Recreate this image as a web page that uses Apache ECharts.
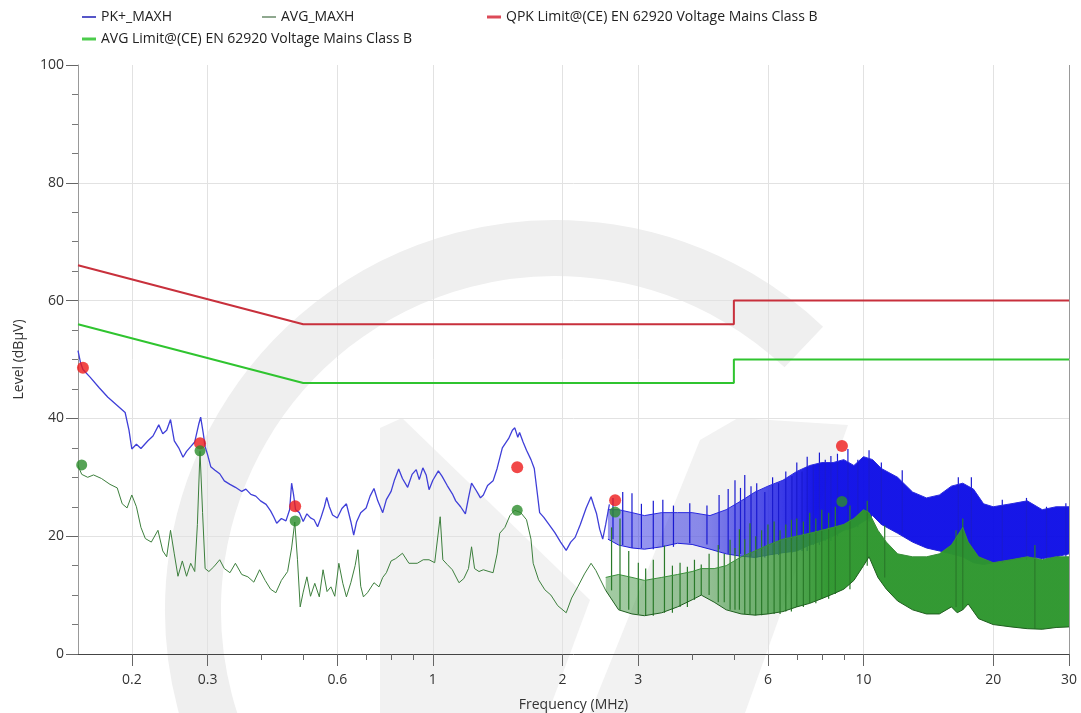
<!DOCTYPE html>
<html>
<head>
<meta charset="utf-8">
<title>EN 62920 conducted emission</title>
<script src="https://cdn.jsdelivr.net/npm/echarts@6/dist/echarts.min.js"></script>
<style>
  html, body { margin: 0; padding: 0; background: #fff; }
  #chart { width: 1081px; height: 713px; }
</style>
</head>
<body>
<div id="chart"></div>
<script>
// frequency ticks (MHz)
var majorTicks = [0.2, 0.3, 0.6, 1, 2, 3, 6, 10, 20, 30];
var minorTicks = [0.4, 0.5, 0.7, 0.8, 0.9, 4, 5, 7, 8, 9];

// limit lines
var qpkLimitFreq = [0.15, 0.5, 5, 5, 30];
var qpkLimitLevel = [66, 56, 56, 60, 60];
var avgLimitFreq = [0.15, 0.5, 5, 5, 30];
var avgLimitLevel = [56, 46, 46, 50, 50];

// PK+ trace, low band (0.15 - 2.6 MHz)
var pkFreq = [0.150, 0.152, 0.154, 0.160, 0.168, 0.176, 0.185, 0.193, 0.197, 0.200,
  0.205, 0.210, 0.218, 0.224, 0.231, 0.236, 0.241, 0.246, 0.251, 0.257,
  0.263, 0.268, 0.274, 0.280, 0.286, 0.289, 0.293, 0.296, 0.300, 0.305,
  0.312, 0.320, 0.328, 0.338, 0.348, 0.360, 0.368, 0.378, 0.388, 0.398,
  0.410, 0.420, 0.427, 0.434, 0.445, 0.456, 0.465, 0.470, 0.475, 0.480,
  0.490, 0.500, 0.510, 0.520, 0.530, 0.540, 0.550, 0.560, 0.567, 0.575,
  0.585, 0.600, 0.615, 0.630, 0.645, 0.655, 0.665, 0.680, 0.700, 0.715,
  0.730, 0.745, 0.765, 0.780, 0.800, 0.815, 0.833, 0.850, 0.874, 0.895,
  0.915, 0.930, 0.948, 0.965, 0.980, 1.000, 1.030, 1.050, 1.080, 1.110,
  1.130, 1.160, 1.190, 1.210, 1.230, 1.260, 1.290, 1.310, 1.340, 1.380,
  1.410, 1.450, 1.500, 1.530, 1.550, 1.575, 1.590, 1.620, 1.650, 1.690,
  1.720, 1.750, 1.770, 1.810, 1.860, 1.920, 1.980, 2.040, 2.090, 2.140,
  2.200, 2.270, 2.330, 2.370, 2.400, 2.440, 2.480, 2.520, 2.570];
var pkLevel = [51.5, 49.5, 48.3, 47.0, 45.2, 43.6, 42.2, 41.0, 38.0, 34.8,
  35.6, 34.9, 36.2, 37.0, 38.9, 37.4, 38.0, 39.8, 36.2, 35.0,
  33.4, 34.4, 35.2, 36.0, 39.0, 40.2, 37.5, 35.2, 33.8, 31.8,
  31.2, 30.6, 29.4, 28.8, 28.3, 27.6, 28.0, 27.1, 26.8, 26.0,
  25.4, 24.3, 23.3, 22.2, 23.0, 22.6, 24.5, 29.0, 27.0, 24.5,
  24.0, 22.5, 23.8, 23.1, 22.8, 21.6, 23.2, 25.0, 26.6, 25.0,
  23.6, 23.1, 24.7, 25.5, 22.5, 20.2, 22.4, 24.0, 24.8, 26.8,
  28.1, 26.0, 24.0, 26.2, 27.6, 29.6, 31.4, 29.8, 28.3, 30.5,
  31.3, 29.6, 31.6, 30.4, 27.9, 29.5, 31.1, 30.2, 28.6, 27.2,
  26.0, 25.0, 23.8, 26.5, 29.0, 27.8, 26.5, 27.0, 28.6, 29.4,
  31.5, 35.0, 36.6, 38.0, 38.4, 36.8, 37.6, 36.0, 34.6, 33.0,
  31.5, 27.0, 24.0, 23.2, 22.0, 20.6, 19.0, 17.6, 19.0, 19.8,
  22.0, 24.8, 26.7, 25.0, 23.8, 21.2, 19.5, 22.0, 25.4];

// PK+ trace, dense part (2.55 - 30 MHz): lower / upper envelope
var pkBandFreq = [2.55, 2.7, 2.9, 3.1, 3.4, 3.7, 4.0, 4.4, 4.8, 5.2, 5.6, 6.0, 6.5, 7.0,
  7.5, 8.0, 8.5, 9.0, 9.5, 10.0, 10.5, 11.0, 12.0, 13.0, 14.0, 15.0, 16.0, 17.0,
  18.0, 19.0, 20.0, 22.0, 24.0, 26.0, 28.0, 30.0];
var pkBandLow = [19.5, 18.5, 18.0, 17.8, 18.2, 18.8, 18.6, 17.8, 17.0, 16.6, 16.4, 16.8, 17.2, 17.5,
  18.5, 19.2, 20.0, 21.0, 21.5, 22.5, 23.5, 22.0, 20.5, 19.0, 18.0, 17.5, 17.0, 16.5,
  15.5, 15.2, 15.5, 16.0, 16.5, 16.2, 16.5, 17.0];
var pkBandHigh = [24.5, 24.5, 24.0, 23.5, 24.0, 24.0, 24.0, 23.5, 24.5, 26.0, 27.5, 28.5, 29.5, 31.0,
  32.0, 32.5, 32.5, 33.0, 32.0, 33.5, 33.0, 31.5, 30.0, 27.5, 26.5, 27.0, 28.5, 29.0,
  28.0, 25.5, 25.0, 25.5, 26.0, 24.5, 25.0, 25.0];

// PK+ individual spikes rising out of the dense part
var pkSpikeFreq = [2.62, 2.76, 2.90, 3.05, 3.25, 3.42, 3.62, 3.95, 4.33, 4.62,
  4.85, 5.03, 5.18, 5.30, 5.48, 5.65, 5.90, 6.15, 6.35, 6.60,
  6.82, 7.00, 7.20, 7.40, 7.65, 7.90, 8.15, 8.40, 8.70, 9.20,
  9.70, 10.3, 11.0, 12.3, 16.6, 17.8, 21.0, 23.9, 26.6, 29.5];
var pkSpikeTop = [26.5, 27.5, 27.3, 25.5, 26.0, 26.2, 25.2, 25.6, 25.2, 27.0,
  28.0, 29.5, 28.2, 30.4, 28.5, 29.0, 27.5, 30.0, 29.0, 31.0,
  30.2, 32.5, 31.0, 33.5, 32.0, 34.2, 33.0, 33.6, 34.0, 34.8,
  33.0, 34.6, 32.5, 31.2, 30.0, 30.0, 26.2, 26.5, 25.0, 25.6];

// AVG trace, low band (0.15 - 2.55 MHz)
var avgFreq = [0.150, 0.153, 0.158, 0.163, 0.170, 0.178, 0.185, 0.190, 0.195, 0.200,
  0.205, 0.210, 0.215, 0.222, 0.230, 0.236, 0.241, 0.246, 0.251, 0.256,
  0.262, 0.268, 0.274, 0.280, 0.284, 0.288, 0.292, 0.296, 0.302, 0.310,
  0.320, 0.328, 0.338, 0.348, 0.360, 0.372, 0.384, 0.396, 0.408, 0.420,
  0.432, 0.445, 0.460, 0.470, 0.478, 0.485, 0.492, 0.500, 0.510, 0.520,
  0.532, 0.545, 0.556, 0.568, 0.580, 0.592, 0.605, 0.618, 0.630, 0.645,
  0.660, 0.670, 0.680, 0.690, 0.705, 0.730, 0.750, 0.765, 0.780, 0.800,
  0.820, 0.850, 0.880, 0.920, 0.950, 0.980, 1.010, 1.040, 1.055, 1.080,
  1.110, 1.150, 1.180, 1.210, 1.230, 1.250, 1.280, 1.310, 1.350, 1.380,
  1.410, 1.430, 1.470, 1.510, 1.550, 1.600, 1.650, 1.690, 1.710, 1.760,
  1.820, 1.880, 1.950, 2.040, 2.100, 2.170, 2.250, 2.330, 2.390, 2.450, 2.520];
var avgLevel = [32.0, 30.5, 30.0, 30.4, 29.8, 28.8, 28.2, 25.5, 24.8, 27.0,
  25.0, 21.5, 19.6, 19.0, 21.0, 17.5, 16.5, 21.0, 17.0, 13.2,
  15.8, 13.2, 15.4, 14.0, 22.0, 34.4, 24.0, 14.5, 14.0, 14.8,
  16.0, 14.5, 13.8, 15.4, 13.5, 13.1, 12.2, 14.3, 12.5, 11.0,
  10.4, 12.5, 14.0, 18.0, 22.4, 16.0, 8.0, 10.5, 13.1, 9.8,
  12.0, 9.7, 14.3, 10.6, 11.4, 9.8, 15.4, 12.0, 9.7, 12.1,
  15.0, 17.7, 11.5, 9.7, 10.4, 12.1, 11.4, 13.0, 13.8, 15.8,
  16.2, 17.1, 15.4, 15.4, 16.0, 16.0, 15.5, 23.3, 16.0, 15.2,
  14.3, 12.1, 12.8, 14.5, 18.2, 14.5, 14.0, 14.3, 14.0, 13.8,
  17.0, 20.5, 21.5, 23.5, 24.4, 24.0, 22.8, 19.5, 15.4, 12.6,
  10.9, 10.0, 8.2, 7.0, 9.5, 11.4, 13.6, 15.4, 14.2, 12.6, 10.8];

// AVG trace, dense part (2.52 - 30 MHz): lower / upper envelope
var avgBandFreq = [2.52, 2.7, 2.9, 3.1, 3.4, 3.7, 4.0, 4.2, 4.5, 4.8, 5.2, 5.6, 6.0, 6.5,
  7.0, 7.5, 8.0, 8.5, 9.0, 9.5, 10.0, 10.3, 10.8, 11.3, 12.0, 13.0, 14.0, 15.0,
  16.0, 16.5, 17.0, 17.5, 18.5, 20.0, 22.0, 24.0, 26.0, 28.0, 30.0];
var avgBandLow = [10.8, 7.5, 6.8, 6.5, 7.0, 8.0, 9.2, 10.0, 8.8, 7.5, 6.8, 6.6, 6.8, 7.2,
  8.0, 8.6, 9.4, 10.2, 11.0, 12.5, 15.0, 16.5, 13.0, 11.0, 9.0, 7.5, 6.8, 6.8,
  8.0, 7.0, 7.5, 8.5, 6.0, 5.0, 4.6, 4.3, 4.2, 4.5, 4.6];
var avgBandHigh = [13.0, 13.5, 13.0, 12.5, 13.0, 13.5, 14.0, 14.5, 14.5, 15.0, 16.5, 17.5, 18.5, 19.5,
  20.0, 20.5, 21.0, 21.5, 22.0, 23.0, 24.5, 24.0, 21.0, 19.0, 17.0, 16.5, 16.5, 17.0,
  18.5, 20.0, 21.5, 19.0, 16.5, 15.5, 16.0, 16.5, 16.0, 16.5, 16.5];

// AVG individual spikes
var avgSpikeFreq = [2.60, 2.72, 2.85, 3.00, 3.12, 3.25, 3.45, 3.60, 3.75, 3.90,
  4.05, 4.20, 4.38, 4.60, 4.75, 4.90, 5.03, 5.15, 5.30, 5.45,
  5.62, 5.80, 6.00, 6.20, 6.40, 6.60, 6.80, 7.00, 7.25, 7.50,
  7.75, 8.00, 8.30, 8.60, 9.30, 10.2, 11.2, 16.4, 17.0, 25.0];
var avgSpikeTop = [21.5, 23.0, 17.5, 15.5, 14.5, 16.0, 18.4, 15.0, 15.5, 14.8,
  16.0, 15.2, 17.0, 18.5, 17.0, 19.4, 18.0, 21.2, 19.5, 22.2,
  20.0, 21.0, 22.0, 22.5, 21.0, 22.0, 22.8, 23.0, 22.5, 24.0,
  23.0, 24.5, 24.0, 25.0, 25.2, 26.0, 21.8, 21.0, 23.0, 18.5];

// final measurement points
var qpFreq = [0.154, 0.288, 0.479, 1.57, 2.65, 8.91];
var qpLevel = [48.6, 35.8, 25.1, 31.7, 26.1, 35.3];
var avFreq = [0.153, 0.288, 0.479, 1.57, 2.65, 8.91];
var avLevel = [32.1, 34.5, 22.6, 24.4, 24.1, 25.9];

var lg = Math.log10;
function pairs(f, v) {
  return f.map(function (x, i) { return [lg(x), v[i]]; });
}

// filled envelope between lo and hi, drawn through the axes with api.coord
function bandSeries(name, freq, lo, hi, fill, z) {
  return {
    name: name, type: 'custom', z: z, clip: true,
    data: freq.map(function (f, i) { return [lg(f), lo[i], hi[i]]; }),
    encode: { x: 0, y: [1, 2] },
    renderItem: function (params, api) {
      if (params.dataIndex !== 0) return null;
      var top = [], bot = [];
      for (var i = 0; i < freq.length; i++) {
        top.push(api.coord([lg(freq[i]), hi[i]]));
        bot.push(api.coord([lg(freq[i]), lo[i]]));
      }
      return {
        type: 'polygon',
        shape: { points: top.concat(bot.reverse()) },
        style: { fill: fill }
      };
    }
  };
}

// vertical spike lines from the band floor up to a top level
function spikeSeries(name, freq, bandFreq, bandLow, top, color, z) {
  // floor taken from the nearest envelope sample below each spike
  var floor = freq.map(function (f) {
    var k = 0;
    while (k < bandFreq.length - 1 && bandFreq[k + 1] <= f) k++;
    return bandLow[k];
  });
  return {
    name: name, type: 'custom', z: z, clip: true,
    data: freq.map(function (f, i) { return [lg(f), floor[i], top[i]]; }),
    encode: { x: 0, y: [1, 2] },
    renderItem: function (params, api) {
      var a = api.coord([api.value(0), api.value(1)]);
      var b = api.coord([api.value(0), api.value(2)]);
      return { type: 'line', shape: { x1: a[0], y1: a[1], x2: b[0], y2: b[1] },
        style: { stroke: color, lineWidth: 1.2 } };
    }
  };
}

var FONT = 'Open Sans';
var xMin = lg(0.15), xMax = lg(30);

var myChart = echarts.init(document.getElementById('chart'));

function legendAt(name, color, left, top, h) {
  return {
    data: [{ name: name, itemStyle: { color: color } }],
    left: left, top: top, padding: 0,
    icon: 'rect', itemWidth: 14, itemHeight: h || 2,
    textStyle: { fontFamily: FONT, fontSize: 14, color: '#222' },
    selectedMode: false
  };
}

var option = {
  animation: false,
  backgroundColor: '#fff',
  textStyle: { fontFamily: FONT },
  legend: [
    legendAt('PK+_MAXH', '#5656c8', 82, 10),
    legendAt('AVG_MAXH', '#8fa88f', 262, 10),
    legendAt('QPK Limit@(CE) EN 62920 Voltage Mains Class B', '#dc4a58', 487, 10, 3),
    legendAt('AVG Limit@(CE) EN 62920 Voltage Mains Class B', '#4ccc4c', 82, 32, 3)
  ],
  graphic: [
    { type: 'arc', silent: true, z: -10,
      shape: { cx: 555, cy: 610, r: 362, startAngle: 2.1, endAngle: 5.47, clockwise: true },
      style: { stroke: '#efefef', lineWidth: 56, fill: null } },
    { type: 'polygon', silent: true, z: -10,
      shape: { points: [[380, 428], [402, 418], [590, 600], [548, 713], [380, 713]] },
      style: { fill: '#f2f2f2' } },
    { type: 'polygon', silent: true, z: -10,
      shape: { points: [[700, 440], [738, 418], [848, 425], [745, 713], [590, 713]] },
      style: { fill: '#f2f2f2' } }
  ],
  grid: { left: 78, right: 12, top: 65, bottom: 59, containLabel: false, outerBoundsMode: 'none' },
  xAxis: [
    {
      type: 'value', min: xMin, max: xMax,
      name: 'Frequency (MHz)', nameLocation: 'middle', nameGap: 44,
      nameTextStyle: { fontFamily: FONT, fontSize: 14, color: '#333' },
      axisLine: { show: true, onZero: false, lineStyle: { color: '#444', width: 1 } },
      axisTick: { show: true, length: 12, lineStyle: { color: '#666' },
        customValues: majorTicks.map(lg) },
      axisLabel: { fontFamily: FONT, fontSize: 14, color: '#333', margin: 19,
        customValues: majorTicks.map(lg),
        formatter: function (v) { return String(+Math.pow(10, v).toPrecision(2)); } },
      splitLine: { show: true, lineStyle: {
        color: ['#e2e2e2', '#e2e2e2', '#e2e2e2', '#e2e2e2', '#e2e2e2', '#e2e2e2', '#e2e2e2',
                '#e2e2e2', '#e2e2e2', '#999'] } }
    },
    {
      type: 'value', min: xMin, max: xMax, position: 'bottom', offset: 0,
      axisLine: { show: false, onZero: false },
      axisTick: { show: true, length: 6, lineStyle: { color: '#666' },
        customValues: minorTicks.map(lg) },
      axisLabel: { show: false, customValues: minorTicks.map(lg) },
      splitLine: { show: false }
    }
  ],
  yAxis: {
    type: 'value', min: 0, max: 100, interval: 20,
    name: 'Level (dBµV)', nameLocation: 'middle', nameGap: 52, nameRotate: 90,
    nameTextStyle: { fontFamily: FONT, fontSize: 14, color: '#333' },
    axisLine: { show: true, onZero: false, lineStyle: { color: '#999' } },
    axisTick: { show: true, length: 12, lineStyle: { color: '#666' } },
    minorTick: { show: true, splitNumber: 4, length: 6, lineStyle: { color: '#777' } },
    axisLabel: { fontFamily: FONT, fontSize: 14, color: '#333', margin: 14 },
    splitLine: { show: true, lineStyle: {
      color: ['rgba(0,0,0,0)', '#e2e2e2', '#e2e2e2', '#e2e2e2', '#e2e2e2', 'rgba(0,0,0,0)'] } }
  },
  series: [
    { name: 'QPK Limit@(CE) EN 62920 Voltage Mains Class B', type: 'line', symbol: 'none',
      data: pairs(qpkLimitFreq, qpkLimitLevel), z: 5,
      lineStyle: { color: '#c8303c', width: 2 } },
    { name: 'AVG Limit@(CE) EN 62920 Voltage Mains Class B', type: 'line', symbol: 'none',
      data: pairs(avgLimitFreq, avgLimitLevel), z: 5,
      lineStyle: { color: '#2fc42f', width: 2 } },

    { name: 'PK+_MAXH', type: 'line', symbol: 'none', data: pairs(pkFreq, pkLevel), z: 2,
      lineStyle: { color: '#3f3fd8', width: 1.3 } },
    bandSeries('PK+_MAXH', pkBandFreq, pkBandLow, pkBandHigh,
      new echarts.graphic.LinearGradient(0, 0, 1, 0, [
        { offset: 0, color: 'rgba(50,50,225,0.5)' },
        { offset: 0.2, color: 'rgba(50,50,225,0.55)' },
        { offset: 0.45, color: 'rgba(10,10,230,0.95)' },
        { offset: 1, color: 'rgba(10,10,230,0.95)' }]), 2),
    { name: 'PK+_MAXH', type: 'line', symbol: 'none', data: pairs(pkBandFreq, pkBandHigh), z: 2,
      lineStyle: { color: '#2a2ae0', width: 1 } },
    { name: 'PK+_MAXH', type: 'line', symbol: 'none', data: pairs(pkBandFreq, pkBandLow), z: 2,
      lineStyle: { color: '#2020d8', width: 1 } },
    spikeSeries('PK+_MAXH', pkSpikeFreq, pkBandFreq, pkBandLow, pkSpikeTop, '#1a1ad0', 2),

    { name: 'AVG_MAXH', type: 'line', symbol: 'none', data: pairs(avgFreq, avgLevel), z: 3,
      lineStyle: { color: '#3d7f3d', width: 1 } },
    bandSeries('AVG_MAXH', avgBandFreq, avgBandLow, avgBandHigh,
      new echarts.graphic.LinearGradient(0, 0, 1, 0, [
        { offset: 0, color: 'rgba(70,150,70,0.5)' },
        { offset: 0.22, color: 'rgba(70,150,70,0.55)' },
        { offset: 0.48, color: 'rgba(45,150,45,0.97)' },
        { offset: 1, color: 'rgba(45,150,45,0.97)' }]), 3),
    { name: 'AVG_MAXH', type: 'line', symbol: 'none', data: pairs(avgBandFreq, avgBandHigh), z: 3,
      lineStyle: { color: '#3a8f3a', width: 1 } },
    { name: 'AVG_MAXH', type: 'line', symbol: 'none', data: pairs(avgBandFreq, avgBandLow), z: 3,
      lineStyle: { color: '#1f5f1f', width: 1 } },
    spikeSeries('AVG_MAXH', avgSpikeFreq, avgBandFreq, avgBandLow, avgSpikeTop, '#2a7a2a', 3),

    { name: 'QP', type: 'scatter', data: pairs(qpFreq, qpLevel), symbolSize: 12, z: 8,
      itemStyle: { color: '#ee1a1a' } },
    { name: 'AV', type: 'scatter', data: pairs(avFreq, avLevel), symbolSize: 11, z: 9,
      itemStyle: { color: '#2c8c2c' } }
  ]
};

myChart.setOption(option);
</script>
</body>
</html>
